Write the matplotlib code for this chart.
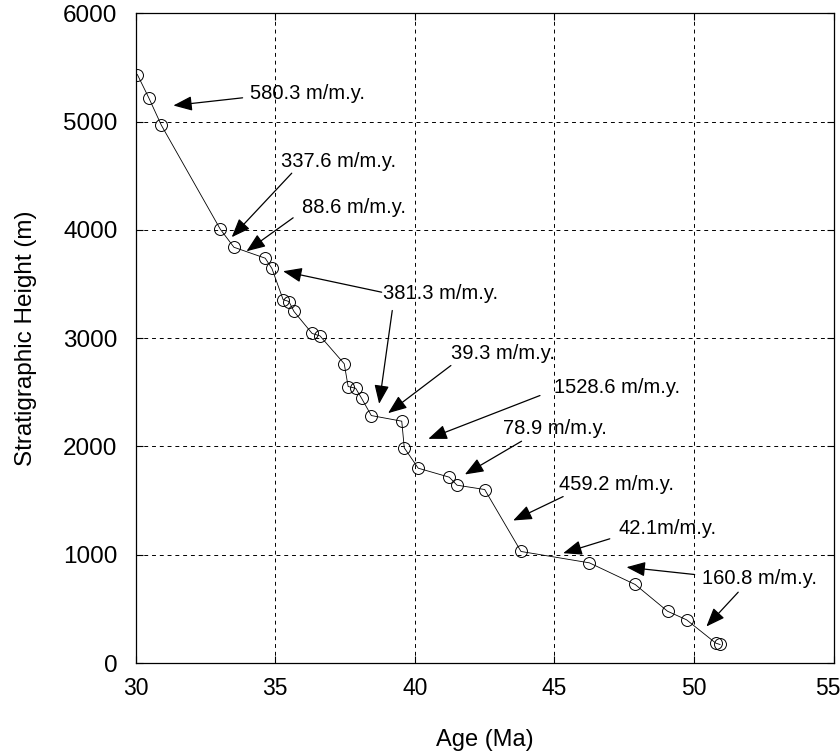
import matplotlib
matplotlib.use("Agg")
import matplotlib.pyplot as plt
from matplotlib.transforms import ScaledTranslation

plt.rcParams['font.family'] = ['Liberation Sans', 'DejaVu Sans']

# Data (age in Ma, stratigraphic height in m)
age = [30.06, 30.47, 30.92, 33.03, 33.52, 34.64, 34.88, 35.28, 35.49, 35.67,
       36.32, 36.60, 37.47, 37.61, 37.88, 38.09, 38.44, 39.53, 39.62, 40.12,
       41.23, 41.51, 42.50, 43.80, 46.25, 47.89, 49.05, 49.73, 50.78, 50.93]
height = [5434, 5219, 4966, 4006, 3839, 3738, 3643, 3356, 3338, 3246,
          3043, 3021, 2763, 2553, 2537, 2445, 2285, 2233, 1987, 1799,
          1716, 1642, 1602, 1030, 925, 725, 478, 399, 183, 171]

rate_labels = ["580.3 m/m.y.", "337.6 m/m.y.", "88.6 m/m.y.", "381.3 m/m.y.",
               "39.3 m/m.y.", "1528.6 m/m.y.", "78.9 m/m.y.", "459.2 m/m.y.",
               "42.1m/m.y.", "160.8 m/m.y."]

xticks = [30, 35, 40, 45, 50, 55]
yticks = [0, 1000, 2000, 3000, 4000, 5000, 6000]

# annotation layout: text anchor (left, center) and list of (tail, tip) arrows
label_pos = [(34.10, 5258), (35.19, 4633), (35.94, 4209), (38.87, 3409),
             (41.29, 2861), (44.98, 2544), (43.16, 2163), (45.16, 1648),
             (47.28, 1239), (50.27, 777)]
arrows = [
    [((33.83, 5219), (31.35, 5148))],
    [((35.59, 4523), (33.44, 3932))],
    [((35.64, 4111), (33.97, 3802))],
    [((38.81, 3424), (35.28, 3618)), ((39.19, 3255), (38.72, 2393))],
    [((41.29, 2747), (39.04, 2307))],
    [((44.48, 2470), (40.48, 2070))],
    [((43.82, 2048), (41.79, 1741))],
    [((45.31, 1537), (43.52, 1316))],
    [((46.98, 1147), (45.31, 1014))],
    [((50.02, 817), (47.58, 885)), ((51.58, 654), (50.44, 337))],
]

fig = plt.figure(figsize=(8.4, 7.56), dpi=100)
ax = fig.add_axes([0.1615, 0.123, 0.8310, 0.8595])

ax.plot(age, height, color='black', lw=0.6, marker='o', markersize=8.6,
        markerfacecolor='none', markeredgecolor='black', markeredgewidth=0.7)

ax.set_xlim(30, 55)
ax.set_ylim(0, 6000)
ax.set_xticks(xticks)
ax.set_yticks(yticks)
ax.set_xticklabels([str(t) for t in xticks], fontsize=16.5)
ax.set_yticklabels([str(t) for t in yticks], fontsize=17.5)
ax.tick_params(direction='in', length=5, width=0.8, top=True, right=True,
               colors='black')
ax.tick_params(axis='y', pad=13)
ax.tick_params(axis='x', pad=10)
for s in ax.spines.values():
    s.set_linewidth(0.9)
    s.set_color('black')

# keep the last x tick label inside the canvas
last = ax.get_xticklabels()[-1]
last.set_transform(last.get_transform() + ScaledTranslation(-6 / 100, 0, fig.dpi_scale_trans))

ax.grid(True, color='black', linestyle=(0, (4, 4)), linewidth=0.7)
ax.set_axisbelow(False)

ax.set_xlabel('Age (Ma)', fontsize=17, labelpad=21)
ax.set_ylabel('Stratigraphic Height (m)', fontsize=17.5, labelpad=19)

for lab, pos, arrs in zip(rate_labels, label_pos, arrows):
    ax.text(pos[0], pos[1], lab, ha='left', va='center', fontsize=14.5,
            color='black')
    for tail, tip in arrs:
        ax.annotate('', xy=tip, xytext=tail,
                    arrowprops=dict(arrowstyle='-|>,head_length=1.15,head_width=0.45',
                                    mutation_scale=10, lw=0.9, color='black',
                                    shrinkA=0, shrinkB=0))

fig.savefig('out.png', dpi=100)
